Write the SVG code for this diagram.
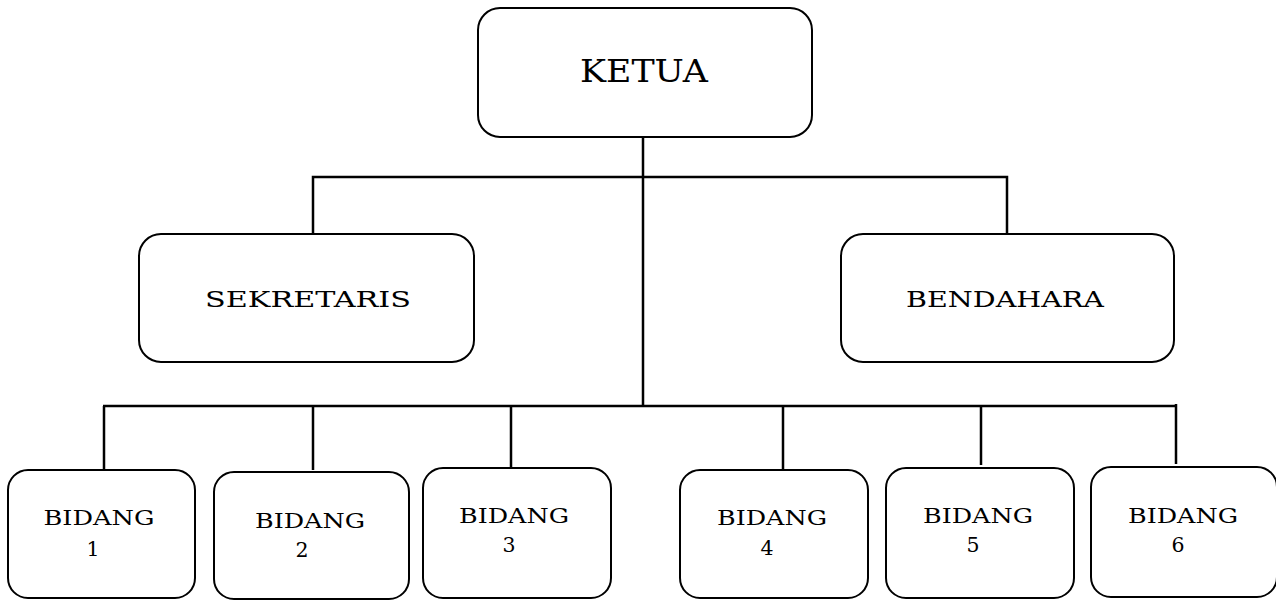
<svg xmlns="http://www.w3.org/2000/svg" width="1276" height="600" viewBox="0 0 1276 600">
<style>
.box{fill:#fff;stroke:#000;stroke-width:2}
.ln{stroke:#000;stroke-width:2.5;fill:none}
text{font-family:"DejaVu Serif","Liberation Serif",serif;fill:#000;text-anchor:middle}
.t1{font-size:31px}
.t2{font-size:23px}
.t3{font-size:20.5px}
</style>
<rect width="1276" height="600" fill="#fff"/>
<g id="connectors">
<path class="ln" d="M643 137V405"/>
<path class="ln" d="M313 234V177H1007V234"/>
<path class="ln" d="M103 406H1175"/>
<path class="ln" d="M104 406V469M313 406V470M511 406V468M783 406V469M981 405V465M1176 404V464"/>
</g>
<g id="ketua"><rect class="box" x="478" y="8" width="334" height="129" rx="22"/><text class="t1" x="644" y="82" textLength="128" lengthAdjust="spacingAndGlyphs">KETUA</text></g>
<g id="sekretaris"><rect class="box" x="139" y="234" width="335" height="128" rx="22"/><text class="t2" x="308" y="307" textLength="206" lengthAdjust="spacingAndGlyphs">SEKRETARIS</text></g>
<g id="bendahara"><rect class="box" x="841" y="234" width="333" height="128" rx="22"/><text class="t2" x="1005" y="307" textLength="198" lengthAdjust="spacingAndGlyphs">BENDAHARA</text></g>
<g id="bidang1"><rect class="box" x="8" y="470" width="187" height="128" rx="20"/><text class="t3" x="99" y="525" textLength="111" lengthAdjust="spacingAndGlyphs">BIDANG</text><text class="t3" x="93" y="556">1</text></g>
<g id="bidang2"><rect class="box" x="214" y="472" width="195" height="127" rx="20"/><text class="t3" x="310" y="528" textLength="110" lengthAdjust="spacingAndGlyphs">BIDANG</text><text class="t3" x="302" y="557">2</text></g>
<g id="bidang3"><rect class="box" x="423" y="468" width="188" height="130" rx="20"/><text class="t3" x="514" y="523" textLength="110" lengthAdjust="spacingAndGlyphs">BIDANG</text><text class="t3" x="509" y="552">3</text></g>
<g id="bidang4"><rect class="box" x="680" y="470" width="188" height="128" rx="20"/><text class="t3" x="772" y="525" textLength="110" lengthAdjust="spacingAndGlyphs">BIDANG</text><text class="t3" x="767" y="555">4</text></g>
<g id="bidang5"><rect class="box" x="886" y="468" width="188" height="130" rx="20"/><text class="t3" x="978" y="523" textLength="110" lengthAdjust="spacingAndGlyphs">BIDANG</text><text class="t3" x="973" y="552">5</text></g>
<g id="bidang6"><rect class="box" x="1091" y="467" width="186" height="130" rx="20"/><text class="t3" x="1183" y="523" textLength="110" lengthAdjust="spacingAndGlyphs">BIDANG</text><text class="t3" x="1178" y="552">6</text></g>
</svg>
